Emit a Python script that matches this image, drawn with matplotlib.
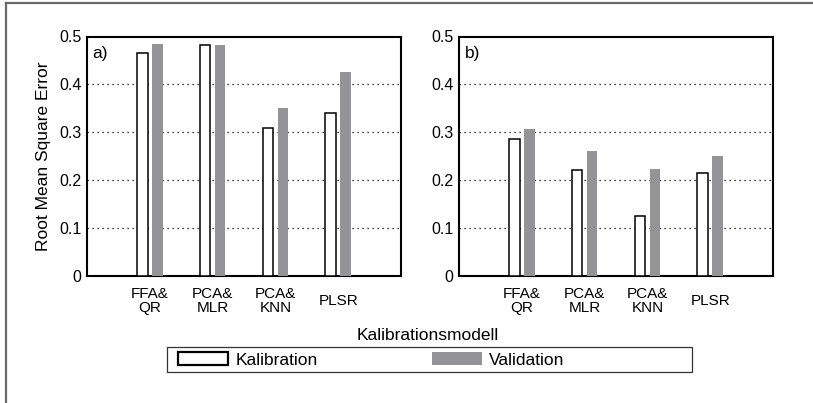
import numpy as np
import matplotlib
matplotlib.use("Agg")
import matplotlib.pyplot as plt
from matplotlib.patches import Patch, Rectangle
from matplotlib.lines import Line2D

plt.rcParams['font.family'] = ['Liberation Sans', 'DejaVu Sans']

# RMSE per calibration model
models = ["FFA&\nQR", "PCA&\nMLR", "PCA&\nKNN", "PLSR"]
kal_a = [0.466, 0.483, 0.310, 0.341]
val_a = [0.484, 0.482, 0.350, 0.426]
kal_b = [0.286, 0.221, 0.126, 0.215]
val_b = [0.306, 0.260, 0.223, 0.250]
panel_tags = ["a)", "b)"]
yticks = [0, 0.1, 0.2, 0.3, 0.4, 0.5]
ytick_labels = ["0", "0.1", "0.2", "0.3", "0.4", "0.5"]

gray = "#949497"
W, H = 813, 403
fig = plt.figure(figsize=(W / 100, H / 100), dpi=100)

x = np.arange(1, len(models) + 1)
bw = 0.17
off = 0.12

axes = [fig.add_axes([87 / W, 1 - 276 / H, 314 / W, 239.5 / H]),
        fig.add_axes([459 / W, 1 - 276 / H, 314 / W, 239.5 / H])]

for ax, kal, val, tag in zip(axes, [kal_a, kal_b], [val_a, val_b], panel_tags):
    ax.bar(x - off, kal, bw, facecolor="white", edgecolor="black", linewidth=1.1, zorder=3)
    ax.bar(x + off, val, bw, facecolor=gray, edgecolor="none", zorder=3)
    ax.set_xlim(0, 5)
    ax.set_ylim(0, 0.5)
    ax.set_yticks(yticks)
    ax.set_yticklabels(ytick_labels, fontsize=11.5)
    ax.set_xticks(x)
    ax.set_xticklabels(models, fontsize=11, linespacing=1.05)
    for lbl in ax.get_xticklabels():
        lbl.set_va("center")
    ax.tick_params(axis="x", length=0, pad=18)
    ax.tick_params(axis="y", length=0, pad=4)
    for s in ax.spines.values():
        s.set_linewidth(1.5)
    # dotted guide lines for the inner ticks
    for yv in yticks[1:-1]:
        ax.axhline(yv, color="black", linestyle=(0, (1, 3)), linewidth=0.9, zorder=1)
    ax.text(0.018, 0.93, tag, transform=ax.transAxes, fontsize=12.5, va="center", ha="left")

axes[0].set_ylabel("Root Mean Square Error", fontsize=12.5, labelpad=6)

fig.text(428 / W, 1 - 335 / H, "Kalibrationsmodell", ha="center", va="center", fontsize=12.5)

# legend box is wider than its entries, so the frame is drawn on its own
fig.add_artist(Rectangle((167 / W, 1 - 372 / H), 525 / W, 25 / H, transform=fig.transFigure,
                         facecolor="white", edgecolor="#333333", linewidth=0.9))
handles = [Patch(facecolor="white", edgecolor="black", linewidth=1.6, label="Kalibration"),
           Patch(facecolor=gray, edgecolor="none", label="Validation")]
leg = fig.legend(handles=handles, ncol=2, loc="center left", bbox_to_anchor=(178 / W, 1 - 360 / H),
                 fontsize=12.5, frameon=False, handlelength=2.9, handleheight=0.8,
                 handletextpad=0.4, columnspacing=6.6, borderpad=0, borderaxespad=0)

# outer frame edges
fig.add_artist(Line2D([5.5 / W, 1], [1 - 2.5 / H, 1 - 2.5 / H], color="#6a6a6a", linewidth=1.6,
                      transform=fig.transFigure))
fig.add_artist(Line2D([5.5 / W, 5.5 / W], [0, 1 - 2.5 / H], color="#6a6a6a", linewidth=1.6,
                      transform=fig.transFigure))

fig.savefig("out.png", dpi=100, facecolor="white")
